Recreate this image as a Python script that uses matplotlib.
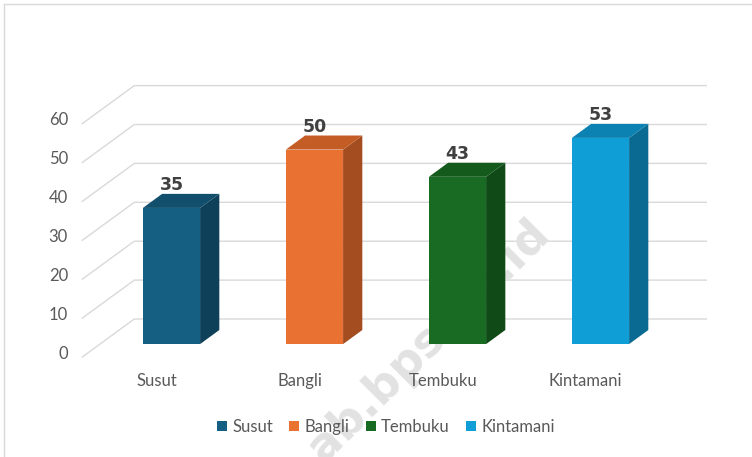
import matplotlib
matplotlib.use('Agg')
import matplotlib.pyplot as plt
from matplotlib.patches import Polygon, Patch
from matplotlib.lines import Line2D

categories = ['Susut', 'Bangli', 'Tembuku', 'Kintamani']
values = [35, 50, 43, 53]
yticks = [0, 10, 20, 30, 40, 50, 60]

front_colors = ['#156082', '#E97132', '#196B24', '#0F9ED5']
side_colors = ['#0E4059', '#A34D20', '#0F4A17', '#0A6A91']
top_colors = ['#124F6C', '#C45C26', '#145A1D', '#0C82B2']

W, H = 752, 457
fig = plt.figure(figsize=(W / 100, H / 100), dpi=100)
ax = fig.add_axes([0, 0, 1, 1])

# pixel mapping of the oblique projection
sx, sy = 143.0, 3.89
x0px, y0px = 153.8, 357.0
ax.set_xlim(-x0px / sx, (W - x0px) / sx)
ax.set_ylim((y0px - H) / sy, y0px / sy)
ax.axis('off')

DX, DY = 52 / sx, 38 / sy      # full floor depth
z0, z1 = 0.34, 0.71            # bar depth range
hw = 0.2                       # bar half width


def P(x, y, z):
    return (x + z * DX, y + z * DY)


grid_c = '#D9D9D9'
xl, xr = -0.5, len(categories) - 0.5
for v in yticks:
    a = P(xl, v, 0); b = P(xl, v, 1); c = P(xr, v, 1)
    ax.add_line(Line2D([a[0], b[0], c[0]], [a[1], b[1], c[1]],
                       color=grid_c, lw=1.0, zorder=1))
    ax.text(-0.6, v + 0.8, str(v), ha='right', va='center',
            fontsize=12, color='#595959', family='Lato')

# watermark
ax.text((552 - x0px) / sx, (y0px - 236) / sy, 'ab.bps.go.id',
        rotation=45, rotation_mode='anchor', ha='right', va='baseline',
        fontsize=33, fontweight='bold', color='#E2E2E2', zorder=2)

for i, (v, fc, scol, tc) in enumerate(zip(values, front_colors, side_colors, top_colors)):
    ax.bar(i + z0 * DX, v, width=2 * hw, bottom=z0 * DY, color=fc, zorder=3)
    side = [P(i + hw, 0, z0), P(i + hw, 0, z1), P(i + hw, v, z1), P(i + hw, v, z0)]
    ax.add_patch(Polygon(side, closed=True, facecolor=scol, edgecolor='none', zorder=3))
    top = [P(i - hw, v, z0), P(i + hw, v, z0), P(i + hw, v, z1), P(i - hw, v, z1)]
    ax.add_patch(Polygon(top, closed=True, facecolor=tc, edgecolor='none', zorder=3))
    lx, ly = i + z0 * DX, v + z1 * DY
    ax.text(lx, ly, str(v), ha='center', va='bottom', fontsize=12.5,
            fontweight='bold', color='#404040', zorder=4)
    ax.text(i + 0.02, (y0px - 381) / sy, categories[i], ha='center', va='center',
            fontsize=12, color='#595959', family='Lato')

handles = [Patch(facecolor=c, edgecolor='none') for c in front_colors]
leg = fig.legend(handles, categories, loc='center', bbox_to_anchor=(386 / W, 1 - 427 / H),
                 ncol=4, frameon=False, handlelength=0.6, handleheight=0.6,
                 handletextpad=0.3, columnspacing=1.0, prop={'family': 'Lato', 'size': 12})
for t in leg.get_texts():
    t.set_color('#595959')

# chart border
fig.add_artist(Line2D([3.5 / W, 3.5 / W], [0, 1 - 3.5 / H], transform=fig.transFigure,
                      color='#D9D9D9', lw=1))
fig.add_artist(Line2D([3.5 / W, 1], [1 - 3.5 / H, 1 - 3.5 / H], transform=fig.transFigure,
                      color='#D9D9D9', lw=1))

fig.savefig('out.png', dpi=100)
